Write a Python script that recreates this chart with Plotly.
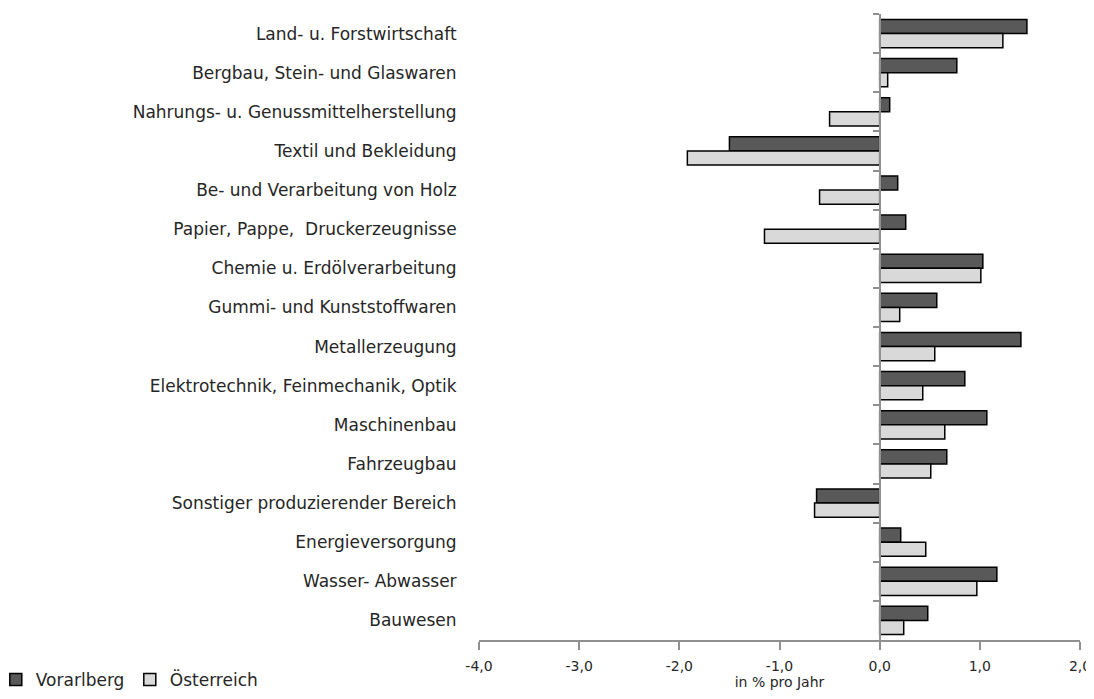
import plotly.graph_objects as go

categories = [
    "Land- u. Forstwirtschaft",
    "Bergbau, Stein- und Glaswaren",
    "Nahrungs- u. Genussmittelherstellung",
    "Textil und Bekleidung",
    "Be- und Verarbeitung von Holz",
    "Papier, Pappe,  Druckerzeugnisse",
    "Chemie u. Erdölverarbeitung",
    "Gummi- und Kunststoffwaren",
    "Metallerzeugung",
    "Elektrotechnik, Feinmechanik, Optik",
    "Maschinenbau",
    "Fahrzeugbau",
    "Sonstiger produzierender Bereich",
    "Energieversorgung",
    "Wasser- Abwasser",
    "Bauwesen",
]
vorarlberg = [1.47, 0.77, 0.10, -1.50, 0.18, 0.26, 1.03, 0.57, 1.41, 0.85, 1.07, 0.67, -0.63, 0.21, 1.17, 0.48]
oesterreich = [1.23, 0.08, -0.50, -1.92, -0.60, -1.15, 1.01, 0.20, 0.55, 0.43, 0.65, 0.51, -0.65, 0.46, 0.97, 0.24]
x_ticks = [-4, -3, -2, -1, 0, 1, 2]
x_tick_labels = ["-4,0", "-3,0", "-2,0", "-1,0", "0,0", "1,0", "2,0"]

FONT = "DejaVu Sans"
TXT = "#262626"
xmin, xmax = -4, 2

fig = go.Figure()
fig.add_trace(go.Bar(
    name="Vorarlberg", y=categories, x=vorarlberg, orientation="h",
    marker=dict(color="#595959", line=dict(color="#000000", width=1.5)),
))
fig.add_trace(go.Bar(
    name="Österreich", y=categories, x=oesterreich, orientation="h",
    marker=dict(color="#d9d9d9", line=dict(color="#000000", width=1.5)),
))
# invisible trace carrying the category labels on a second y axis
fig.add_trace(go.Scatter(
    y=categories, x=[0] * len(categories), mode="markers",
    marker=dict(opacity=0), showlegend=False, hoverinfo="skip", yaxis="y2",
))

yrange = [len(categories) - 0.5, -0.5]
zero_pos = (0 - xmin) / (xmax - xmin)

fig.update_layout(
    width=1086, height=683,
    margin=dict(l=471, r=14, t=6, b=51, autoexpand=False),
    paper_bgcolor="white", plot_bgcolor="white",
    barmode="group", bargap=0.28, bargroupgap=0,
    font=dict(family=FONT, size=15, color=TXT),
    xaxis=dict(
        range=[xmin, xmax], tickvals=x_ticks, ticktext=x_tick_labels,
        showgrid=False, zeroline=False, automargin=False,
        showline=True, linecolor="#909090", linewidth=1.5,
        ticks="outside", ticklen=8, tickcolor="#909090", tickwidth=1.5,
        ticklabelstandoff=4,
        tickfont=dict(size=14),
        title=dict(text="in % pro Jahr", font=dict(size=14), standoff=4),
    ),
    yaxis=dict(
        type="category", categoryorder="array", categoryarray=categories,
        range=yrange, anchor="free", position=zero_pos, automargin=False,
        showgrid=False, zeroline=False,
        showline=True, linecolor="#909090", linewidth=2,
        ticks="outside", tickson="boundaries", ticklen=6,
        tickcolor="#909090", tickwidth=2,
        showticklabels=False,
    ),
    yaxis2=dict(
        type="category", categoryorder="array", categoryarray=categories,
        range=yrange, overlaying="y", side="left", anchor="x", automargin=False,
        showgrid=False, zeroline=False, showline=False,
        ticks="outside", ticklen=18, tickcolor="rgba(0,0,0,0)",
        tickfont=dict(size=17),
    ),
    legend=dict(
        orientation="h", x=-0.804, xanchor="left", y=-0.064, yanchor="middle",
        font=dict(size=17), entrywidth=89, entrywidthmode="pixels",
        itemwidth=30, bgcolor="rgba(0,0,0,0)",
    ),
)

fig.write_html("out.html")
